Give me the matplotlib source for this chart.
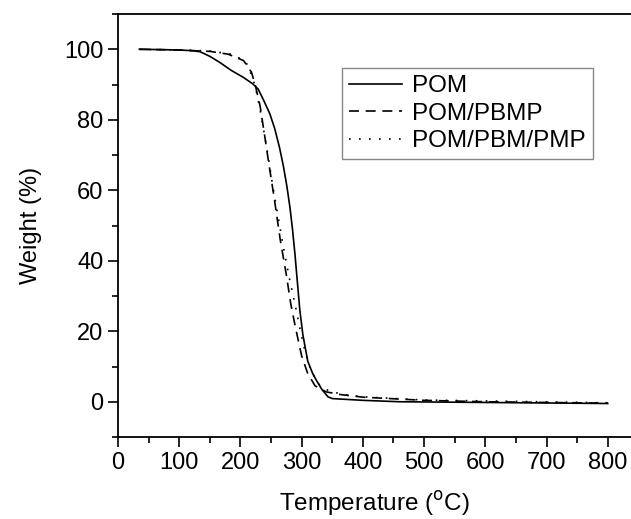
import numpy as np
import matplotlib.pyplot as plt
from matplotlib.ticker import MultipleLocator

plt.rcParams['font.family'] = ['Liberation Sans', 'DejaVu Sans']

# TGA curves (temperature in C, weight in %)
pom_t = [35, 100, 120, 134, 150, 166, 185, 205, 220, 229, 238, 248, 256, 264, 270,
         276, 281, 285, 289, 293, 297, 302, 310, 318, 324, 333, 343, 350, 400, 460, 600, 800]
pom_w = [100, 99.8, 99.6, 99.3, 98, 96.3, 94, 92, 90.2, 88.7, 85.5, 81.7, 77.5, 72, 67,
         61, 55, 49, 42, 34, 26, 19, 11.5, 8, 6.1, 3.5, 1.4, 0.9, 0.4, 0, -0.2, -0.5]

pbmp_t = [35, 100, 150, 180, 205, 218, 224, 232, 240, 246, 255, 265, 275, 282, 290,
          300, 310, 322, 340, 365, 400, 500, 600, 800]
pbmp_w = [100, 99.8, 99.4, 98.6, 96.8, 93.5, 90, 84, 75, 68, 58, 46, 36, 28, 21,
          13, 8, 4.5, 2.8, 2, 1.3, 0.4, 0, -0.4]

pmp_t = [35, 100, 150, 190, 210, 220, 226, 232, 238, 245, 252, 262, 270, 280, 290,
         298, 306, 315, 328, 345, 370, 400, 500, 800]
pmp_w = [100, 99.8, 99.5, 98.5, 96, 92, 88, 83, 77, 70, 62, 52, 44, 35, 27,
         20, 14, 9, 5, 3, 2, 1.4, 0.5, -0.3]

fig = plt.figure(figsize=(6.31, 5.19), dpi=100)
ax = fig.add_axes([0.187, 0.158, 0.813, 0.815])

ax.plot(pom_t, pom_w, color='black', lw=1.2, label='POM')
ax.plot(pbmp_t, pbmp_w, color='black', lw=1.2, linestyle=(0, (6, 4)), label='POM/PBMP')
ax.plot(pmp_t, pmp_w, color='black', lw=1.2, linestyle=(0, (1, 5)), label='POM/PBM/PMP')

ax.set_xlim(0, 838)
ax.set_ylim(-10, 110)
ax.xaxis.set_major_locator(MultipleLocator(100))
ax.xaxis.set_minor_locator(MultipleLocator(50))
ax.yaxis.set_minor_locator(MultipleLocator(10))
ax.set_yticks([0, 20, 40, 60, 80, 100])
ax.tick_params(which='major', direction='out', length=7, width=1.2, labelsize=17)
ax.tick_params(which='minor', direction='out', length=4, width=1.2)
ax.spines['right'].set_visible(False)
for s in ['left', 'bottom', 'top']:
    ax.spines[s].set_linewidth(1.3)

ax.set_xlabel('Temperature ($^{\\mathrm{o}}$C)', fontsize=17.5, labelpad=11)
ax.set_ylabel('Weight (%)', fontsize=17, labelpad=16)

leg = ax.legend(loc='upper left', bbox_to_anchor=(0.436, 0.872), borderaxespad=0,
                fontsize=17.5, handlelength=2.2, fancybox=False, framealpha=1,
                edgecolor='#888888', labelspacing=0.22, handletextpad=0.4,
                borderpad=0.3)
leg.get_frame().set_linewidth(1.0)

fig.savefig('out.png', dpi=100)
